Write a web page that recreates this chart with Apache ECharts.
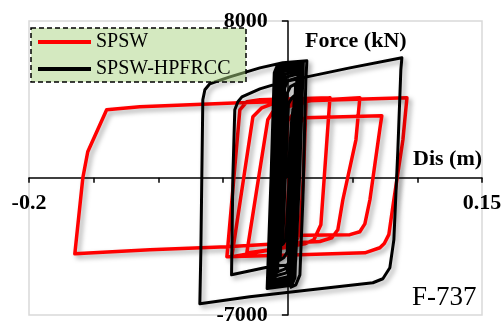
<!DOCTYPE html>
<html>
<head>
<meta charset="utf-8">
<script src="https://cdn.jsdelivr.net/npm/echarts@6/dist/echarts.min.js"></script>
<style>
  html, body { margin: 0; padding: 0; background: #fff; }
  #chart { width: 502px; height: 324px; }
</style>
</head>
<body>
<div id="chart"></div>
<script>
const seriesNames = ['SPSW', 'SPSW-HPFRCC']

// SPSW hysteresis path (displacement m, force kN)
const spswDis = [
  0, 0.004, 0.007, 0.005, 0.002, -0.005, -0.003, 0.000, 0.009, 0.007,
  0.004, -0.010, -0.008, -0.005, -0.002, 0.014, 0.012, 0.009, 0.004, -0.0317,
  -0.0226, -0.0155, -0.0116, -0.0062, 0.0325, 0.0281, 0.0255, 0.0201, 0.0131, -0.0433,
  -0.0341, -0.027, -0.0201, -0.010, 0.0556, 0.0526, 0.0425, 0.0386, 0.034, 0.0247,
  0.0054, -0.0471, -0.1066, -0.1646, -0.1584, -0.1546, -0.140, -0.1144, -0.0371, 0.092,
  0.0889, 0.0819, 0.078, 0.0745, 0.0711, 0.0595, 0.0093, -0.0471, -0.0417, -0.0371,
  -0.0317, -0.0216, 0.0325, 0.0281, 0.0255, 0.0201, 0.0131, -0.002, 0.001, 0.006,
  0.0131, 0.0726, 0.0711, 0.0634, 0.0595, 0.0556, 0.0479, -0.004,
]
const spswForce = [
  0, 2600, 3300, 0, -2700, -3400, 0, 2900, 3700, 0,
  -2900, -3700, 0, 3000, 3600, 3850, 0, -2900, -3500, -3830,
  0, 2960, 3370, 3670, 4080, 0, -2400, -3160, -3370, -4030,
  0, 3110, 3570, 3825, 4080, 1940, -1120, -2650, -3060, -3250,
  -3315, -3520, -3670, -3880, 0, 1330, 3470, 3620, 3825, 4080,
  1940, -1120, -2900, -3350, -3570, -3830, -3930, -4030, 0, 3470,
  3880, 3980, 4080, 0, -2400, -3160, -3370, -3400, 0, 2600,
  3060, 3160, 2500, -1120, -2350, -2750, -2900, -2950,
]

// SPSW-HPFRCC hysteresis path: dense small cycles, then two large ones
const hpfrccDis = [
  0, 0.003, 0.004,
  0.001, -0.0015, -0.004, -0.005, -0.002, 0.0005, 0.003, 0.005,
  0.002, -0.0005, -0.003, -0.006, -0.003, -0.0005, 0.002, 0.006,
  0.003, 0.0005, -0.002, -0.008, -0.005, -0.0025, 0.000, 0.007,
  0.004, 0.0015, -0.001, -0.009, -0.006, -0.0035, -0.001, 0.008,
  0.005, 0.0025, 0.000, -0.010, -0.007, -0.0045, -0.002, 0.008,
  0.005, 0.0025, 0.000, -0.011, -0.008, -0.0055, -0.003, 0.009,
  0.006, 0.0035, 0.001, -0.012, -0.009, -0.0065, -0.004, 0.009,
  0.006, 0.0035, 0.001, -0.013, -0.010, -0.0075, -0.005, 0.010,
  0.007, 0.0045, 0.002, -0.014, -0.011, -0.0085, -0.006, 0.011,
  0.008, 0.0055, 0.003, -0.015, -0.012, -0.0095, -0.007, 0.011,
  0.008, 0.0055, 0.003, -0.016, -0.013, -0.0105, -0.008, 0.012,
  0.009, 0.006, 0.002, -0.0116, -0.0435,
  -0.0425, -0.041, -0.0386, -0.0355, -0.0216, -0.0062, 0.0147, 0.0479, 0.0881,
  0.0873, 0.085, 0.0819, 0.0788, 0.0734, 0.0657, 0.0093, -0.0294, -0.068,
  -0.0672, -0.0657, -0.0641, -0.0603, -0.0448, -0.0216, -0.0039, 0.0147,
  0.0139, 0.0116, 0.0093, 0.0062, 0.0015,
]
const hpfrccForce = [
  0, 3000, 3500,
  0, -3150, -3400, -3500, 0, 3780, 4070, 4200,
  0, -3780, -4070, -4200, 0, 4320, 4650, 4800,
  0, -4320, -4650, -4800, 0, 4590, 4950, 5100,
  0, -4500, -4850, -5000, 0, 4770, 5140, 5300,
  0, -4680, -5040, -5200, 0, 4900, 5290, 5450,
  0, -4810, -5190, -5350, 0, 5040, 5430, 5600,
  0, -4900, -5290, -5450, 0, 5130, 5530, 5700,
  0, -4950, -5330, -5500, 0, 5220, 5630, 5800,
  0, -5000, -5380, -5550, 0, 5270, 5670, 5850,
  0, -5040, -5430, -5600, 0, 5310, 5720, 5900,
  0, -5090, -5480, -5650, 0, 5360, 5770, 5950,
  0, -4200, -4450, -4500, -4950,
  0, 3470, 3880, 4130, 4540, 4845, 5150, 5610, 6120,
  5510, 1430, -3160, -4590, -5150, -5355, -5780, -6070, -6430,
  -3670, 3980, 4490, 4800, 5150, 5610, 5870, 5970,
  5000, -1120, -4950, -5460, -5610,
]

const xMin = -0.2
const xMax = 0.15
const yMin = -7000
const yMax = 8000
const xTicks = [-0.2, -0.15, -0.1, -0.05, 0, 0.05, 0.1, 0.15]
const xTickLabels = [-0.2, 0.15]
const yTickLabels = [-7000, 8000]

const FONT = '"Liberation Serif", "Times New Roman", serif'

const W = 502
const H = 324
const GRID = { left: 29, right: 20, top: 21, bottom: 9 }
const plotW = W - GRID.left - GRID.right
const plotH = H - GRID.top - GRID.bottom
// axes cross at the origin: shift them in from the grid edges
const xAxisOffset = -plotH * (0 - yMin) / (yMax - yMin)
const yAxisOffset = -plotW * (0 - xMin) / (xMax - xMin)

function zip(xs, ys) {
  return xs.map((x, i) => [x, ys[i]])
}

const shadow = {
  shadowColor: 'rgba(0,0,0,0.35)',
  shadowBlur: 5,
  shadowOffsetX: 3,
  shadowOffsetY: 3,
}

const labelStyle = {
  fontFamily: FONT, fontSize: 22, fontWeight: 'bold', color: '#000',
  formatter: (v) => String(v),
}

const chart = echarts.init(document.getElementById('chart'))
chart.setOption({
  animation: false,
  grid: {
    ...GRID,
    outerBoundsMode: 'none',
    containLabel: false,
    show: true, borderColor: '#d9d9d9', borderWidth: 1.5,
  },
  legend: {
    data: seriesNames,
    orient: 'vertical',
    left: 38,
    top: 31,
    padding: 0,
    itemGap: 5,
    itemWidth: 53,
    itemHeight: 4,
    icon: 'rect',
    textStyle: { fontFamily: FONT, fontSize: 20, color: '#000', lineHeight: 22 },
  },
  xAxis: {
    type: 'value',
    min: xMin,
    max: xMax,
    interval: 0.05,
    position: 'bottom',
    offset: xAxisOffset,
    axisLine: { onZero: false, lineStyle: { color: '#000', width: 1.5 } },
    axisTick: { show: true, length: 5, customValues: xTicks, lineStyle: { color: '#000', width: 1.5 } },
    axisLabel: { ...labelStyle, customValues: xTickLabels, margin: 15 },
    splitLine: { show: false },
  },
  yAxis: {
    type: 'value',
    min: yMin,
    max: yMax,
    position: 'left',
    offset: yAxisOffset,
    axisLine: { onZero: false, lineStyle: { color: '#000', width: 1.5 } },
    axisTick: { show: true, length: 6, customValues: yTickLabels, lineStyle: { color: '#000', width: 1.5 } },
    axisLabel: { ...labelStyle, customValues: yTickLabels, margin: 20 },
    splitLine: { show: false },
  },
  graphic: [
    {
      type: 'rect', z: 3,
      shape: { x: 31, y: 28, width: 215, height: 54 },
      style: { fill: 'rgba(169,212,130,0.5)', stroke: '#000', lineWidth: 1.5, lineDash: [5, 3] },
    },
    {
      type: 'text', z: 5, x: 305, y: 41,
      style: { text: 'Force (kN)', font: 'bold 22px ' + FONT, fill: '#000', textAlign: 'left', textVerticalAlign: 'middle' },
    },
    {
      type: 'text', z: 5, x: 413, y: 159,
      style: { text: 'Dis (m)', font: 'bold 22px ' + FONT, fill: '#000', textAlign: 'left', textVerticalAlign: 'middle' },
    },
    {
      type: 'text', z: 5, x: 412, y: 298,
      style: { text: 'F-737', font: '27px ' + FONT, fill: '#000', textAlign: 'left', textVerticalAlign: 'middle' },
    },
  ],
  series: [
    {
      name: seriesNames[0],
      type: 'line',
      data: zip(spswDis, spswForce),
      showSymbol: false,
      symbol: 'none',
      itemStyle: { color: '#ff0000' },
      lineStyle: { color: '#ff0000', width: 3.5, join: 'round', ...shadow },
      z: 2,
    },
    {
      name: seriesNames[1],
      type: 'line',
      data: zip(hpfrccDis, hpfrccForce),
      showSymbol: false,
      symbol: 'none',
      itemStyle: { color: '#000' },
      lineStyle: { color: '#000', width: 3, join: 'round', ...shadow },
      z: 2,
    },
  ],
})
</script>
</body>
</html>
